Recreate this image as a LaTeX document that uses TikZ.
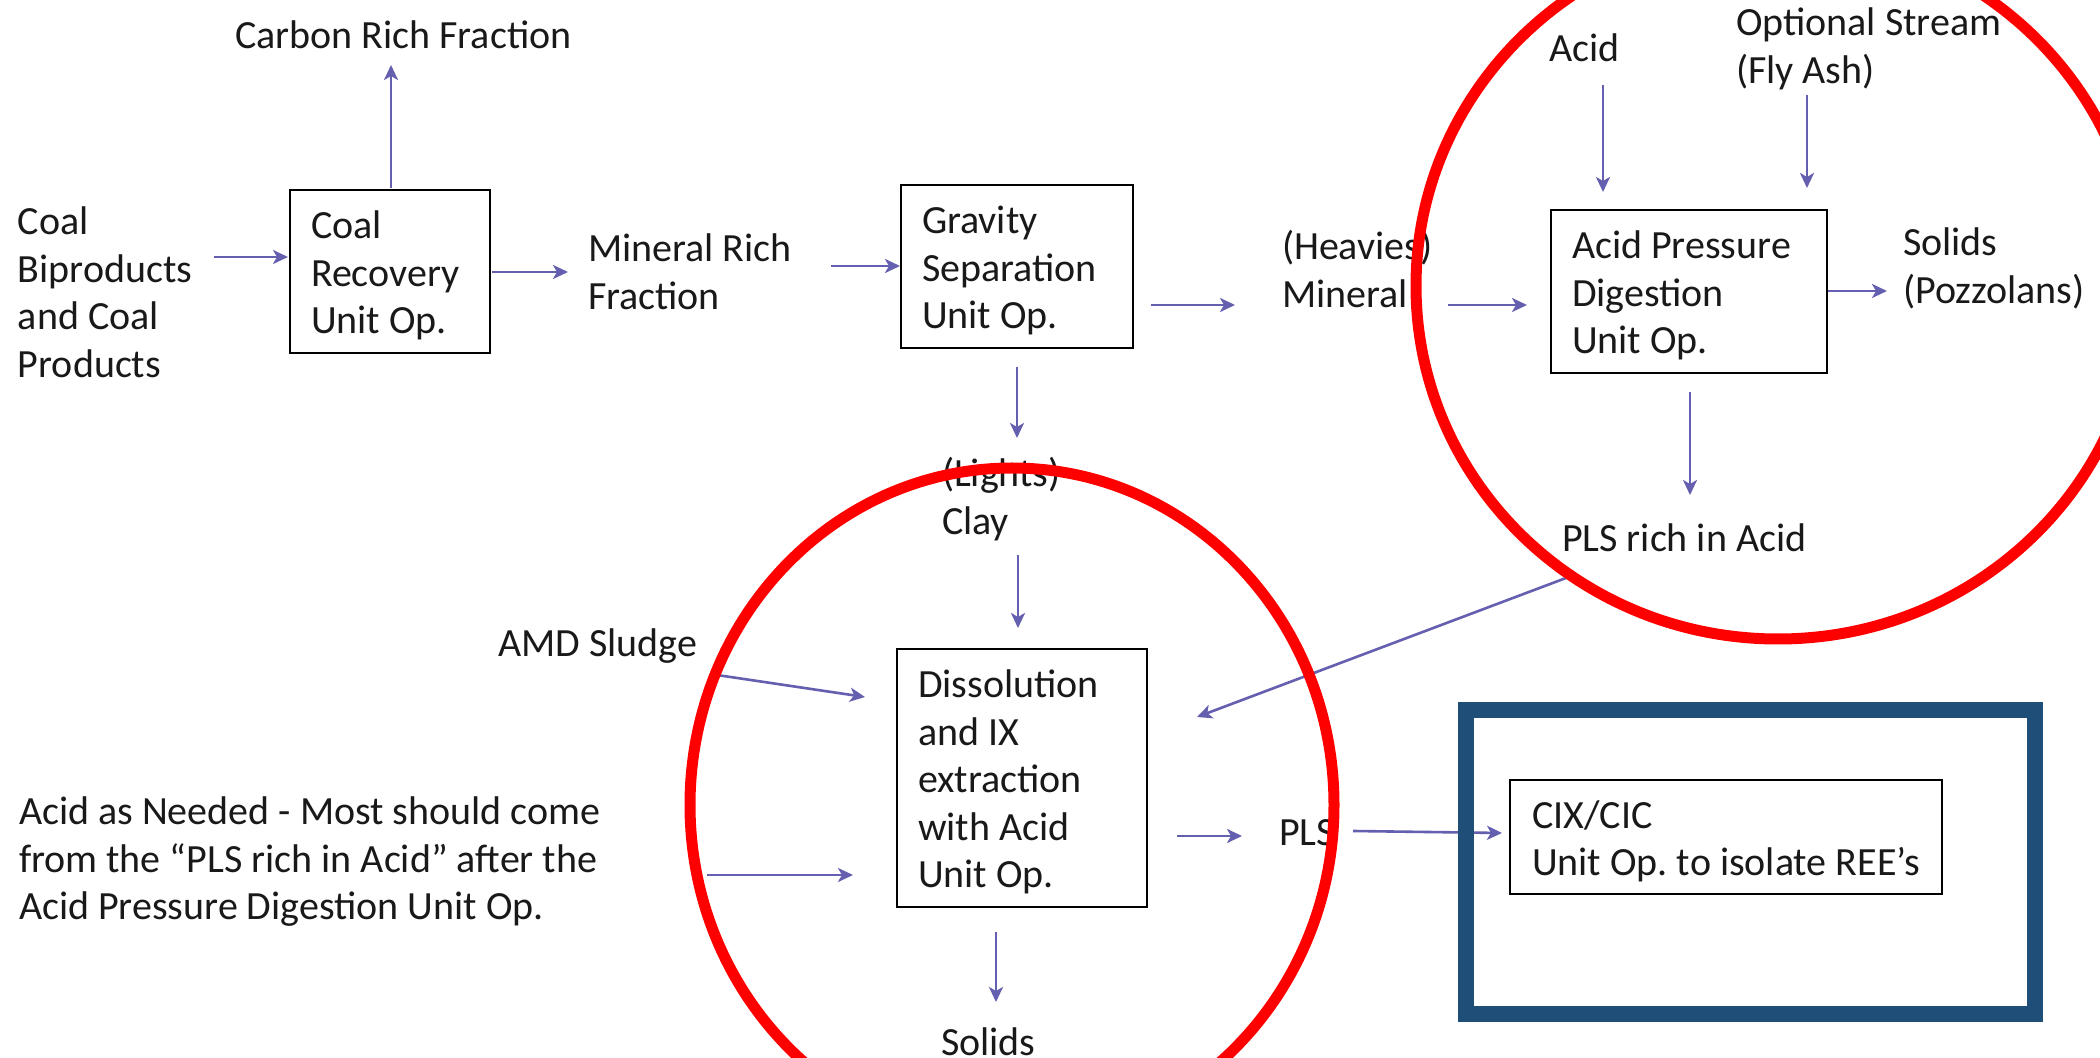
\documentclass[tikz,border=0pt]{standalone}
\usepackage{fontspec}
\setmainfont{Carlito}
\usetikzlibrary{arrows.meta,calc}
\definecolor{flow}{RGB}{100,95,175}
\definecolor{ink}{RGB}{25,25,25}
\definecolor{ringred}{RGB}{255,0,0}
\definecolor{framebl}{RGB}{31,78,121}
\newcommand{\flowfont}{\fontsize{20pt}{23.75pt}\selectfont\frenchspacing}
% first-line struts: fix the height of the top line of a label / a unit box
\newcommand{\lblstrut}{\rule{0pt}{18.1pt}}
\newcommand{\boxstrut}{\rule{0pt}{22.1pt}}

\begin{document}
\begin{tikzpicture}[x=0.5pt,y=-0.5pt,
  every node/.style={font=\flowfont, text=ink},
  lbl/.style={anchor=north west, inner sep=0pt, outer sep=0pt, align=flush left},
  unitbox/.style={draw=black, line width=1.2pt, anchor=north west, outer sep=0pt,
                  inner ysep=0pt, inner xsep=10.5pt, align=flush left},
  arr/.style={draw=flow, line width=1.3pt, -{Stealth[length=7.5pt,width=7pt,inset=2pt]}},
  ring/.style={draw=ringred, line width=5.5pt},
  hilite/.style={draw=framebl, line width=8pt}]

\useasboundingbox[fill=white] (0,0) rectangle (2100,1058);

% ---- stream labels ----
\node[lbl] (feed)    at (18,198.75)   {\lblstrut Coal\\Biproducts\\and Coal\\Products\strut};
\node[lbl] (carbon)  at (235,12.75)   {\lblstrut Carbon Rich Fraction\strut};
\node[lbl] (mineral) at (588,225.75)  {\lblstrut Mineral Rich\\Fraction\strut};
\node[lbl] (heavies) at (1282,223.75) {\lblstrut (Heavies)\\Mineral\strut};
\node[lbl] (acidin)  at (1549,25.75)  {\lblstrut Acid\strut};
\node[lbl] (flyash)  at (1736,-0.25)  {\lblstrut Optional Stream\\(Fly Ash)\strut};
\node[lbl] (pozz)    at (1903,219.75) {\lblstrut Solids\\(Pozzolans)\strut};
\node[lbl] (plsacid) at (1562,515.75) {\lblstrut PLS rich in Acid\strut};
\node[lbl] (lights)  at (942,450.75)  {\lblstrut (Lights)\\Clay\strut};
\node[lbl] (amd)     at (498,620.75)  {\lblstrut AMD Sludge\strut};
\node[lbl] (needed)  at (19,788.75)   {\lblstrut Acid as Needed - Most should come\\from the “PLS rich in Acid” after the\\Acid Pressure Digestion Unit Op.\strut};
\node[lbl] (pls)     at (1279,809.75) {\lblstrut PLS\strut};
\node[lbl] (solids)  at (941,1019.75) {\lblstrut Solids\strut};

% ---- unit operations ----
\node[unitbox, minimum width=100pt, minimum height=81.5pt, text width=79pt]
  (coal) at (290,190) {\boxstrut Coal\\Recovery\\Unit Op.\strut};
\node[unitbox, minimum width=116pt, minimum height=81.5pt, text width=95pt]
  (grav) at (901,185) {\boxstrut Gravity\\Separation\\Unit Op.\strut};
\node[unitbox, minimum width=138pt, minimum height=81.5pt, text width=117pt]
  (apd) at (1551,210) {\boxstrut Acid Pressure\\Digestion\\Unit Op.\strut};
\node[unitbox, minimum width=125pt, minimum height=129pt, text width=104pt]
  (diss) at (897,649) {\boxstrut Dissolution\\and IX\\extraction\\with Acid\\Unit Op.\strut};
\node[unitbox, minimum width=216pt, minimum height=57pt, inner xsep=9.5pt]
  (cix) at (1510,780) {\boxstrut CIX/CIC\\Unit Op. to isolate REE’s\strut};

% ---- flows ----
\draw[arr] ($(feed.north west)+(196,58.25)$)    -- ($(coal.north west)+(-2,67)$);
\draw[arr] ($(coal.north west)+(101,-2)$)       -- ($(carbon.north west)+(156,52.25)$);
\draw[arr] ($(coal.north west)+(202,82)$)       -- ($(mineral.north west)+(-20,46.25)$);
\draw[arr] ($(mineral.north west)+(243,40.25)$) -- ($(grav.north west)+(-1,81)$);
\draw[arr] ($(grav.north west)+(250,120)$)      -- ($(heavies.north west)+(-47,81.25)$);
\draw[arr] ($(heavies.north west)+(166,81.25)$) -- ($(apd.north west)+(-24,95)$);
\draw[arr] ($(acidin.north west)+(54,59.25)$)   -- ($(apd.north west)+(52,-18)$);
\draw[arr] ($(flyash.north west)+(71,95.25)$)   -- ($(apd.north west)+(256,-22)$);
\draw[arr] ($(apd.north west)+(277,81)$)        -- ($(pozz.north west)+(-16,71.25)$);
\draw[arr] ($(apd.north west)+(139,182)$)       -- ($(plsacid.north west)+(128,-20.75)$);
\draw[arr] ($(plsacid.north west)+(4,62.25)$)   -- ($(diss.north west)+(300,68)$);
\draw[arr] ($(grav.north west)+(116,182)$)      -- ($(lights.north west)+(75,-12.75)$);
\draw[arr] ($(lights.north west)+(76,104.25)$)  -- ($(diss.north west)+(121,-21)$);
\draw[arr] ($(amd.north west)+(219,54.25)$)     -- ($(diss.north west)+(-32,48)$);
\draw[arr] ($(needed.north west)+(688,86.25)$)  -- ($(diss.north west)+(-44,226)$);
\draw[arr] ($(diss.north west)+(280,187)$)      -- ($(pls.north west)+(-37,26.25)$);
\draw[arr] ($(pls.north west)+(74,21.25)$)      -- ($(cix.north west)+(-8,53)$);
\draw[arr] ($(diss.north west)+(99,283)$)       -- ($(solids.north west)+(55,-17.75)$);

% ---- highlights ----
\draw[ring] (1778,286) ellipse [x radius=362, y radius=353];
\draw[ring] (1012,805) ellipse [x radius=322, y radius=337];
\draw[hilite] (1466,710) rectangle (2035,1014);
\end{tikzpicture}
\end{document}
